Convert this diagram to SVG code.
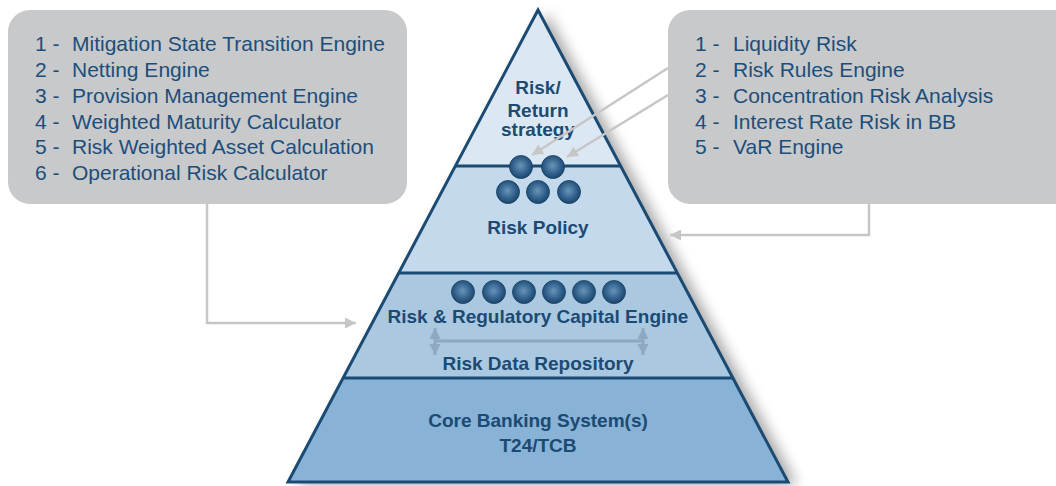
<svg xmlns="http://www.w3.org/2000/svg" width="1056" height="486" viewBox="0 0 1056 486">
<style>
.box{fill:#c8c9cb}
.lst{font-family:"Liberation Sans",Arial,sans-serif;font-size:21px;fill:#1d4e7a}
.lbl{font-family:"Liberation Sans",Arial,sans-serif;font-size:19px;font-weight:bold;fill:#1b4a73;text-anchor:middle}
.edge{fill:none;stroke:#1b4a73;stroke-width:3;stroke-linejoin:miter}
.con{fill:none;stroke:#c6c6c6;stroke-width:2.5}
.dbl{fill:none;stroke:#8da8bf;stroke-width:3}
.ball{fill:url(#sph);stroke:#17405f;stroke-width:0.8}
</style>
<defs>
<radialGradient id="sph" cx="0.48" cy="0.45" r="0.6">
<stop offset="0" stop-color="#6a94b8"/>
<stop offset="0.6" stop-color="#2f5f8a"/>
<stop offset="1" stop-color="#173f64"/>
</radialGradient>
<filter id="shadow" x="-20%" y="-20%" width="150%" height="140%">
<feGaussianBlur in="SourceAlpha" stdDeviation="7"/>
<feOffset dx="9" dy="3" result="b"/>
<feComponentTransfer><feFuncA type="linear" slope="0.35"/></feComponentTransfer>
<feMerge><feMergeNode/><feMergeNode in="SourceGraphic"/></feMerge>
</filter>
<marker id="arr" viewBox="0 0 10 10" refX="10" refY="5" markerWidth="11" markerHeight="11" markerUnits="userSpaceOnUse" orient="auto">
<path d="M0,0 L10,5 L0,10 z" fill="#c6c6c6"/>
</marker>
<marker id="arr2" viewBox="0 0 10 10" refX="10" refY="5" markerWidth="11" markerHeight="12" markerUnits="userSpaceOnUse" orient="auto-start-reverse">
<path d="M0,0 L10,5 L0,10 z" fill="#8da8bf"/>
</marker>
</defs>

<g id="left-box">
<rect class="box" x="8" y="10" width="399" height="194" rx="22"/>
<text class="lst"><tspan x="35" y="51">1 -</tspan><tspan x="72" y="51">Mitigation State Transition Engine</tspan></text>
<text class="lst"><tspan x="35" y="77">2 -</tspan><tspan x="72" y="77">Netting Engine</tspan></text>
<text class="lst"><tspan x="35" y="103">3 -</tspan><tspan x="72" y="103">Provision Management Engine</tspan></text>
<text class="lst"><tspan x="35" y="128.5">4 -</tspan><tspan x="72" y="128.5">Weighted Maturity Calculator</tspan></text>
<text class="lst"><tspan x="35" y="154">5 -</tspan><tspan x="72" y="154">Risk Weighted Asset Calculation</tspan></text>
<text class="lst"><tspan x="35" y="180">6 -</tspan><tspan x="72" y="180">Operational Risk Calculator</tspan></text>
</g>

<g id="right-box">
<rect class="box" x="668" y="10" width="410" height="194" rx="22"/>
<text class="lst"><tspan x="695" y="51">1 -</tspan><tspan x="733" y="51">Liquidity Risk</tspan></text>
<text class="lst"><tspan x="695" y="77">2 -</tspan><tspan x="733" y="77">Risk Rules Engine</tspan></text>
<text class="lst"><tspan x="695" y="103">3 -</tspan><tspan x="733" y="103">Concentration Risk Analysis</tspan></text>
<text class="lst"><tspan x="695" y="128.5">4 -</tspan><tspan x="733" y="128.5">Interest Rate Risk in BB</tspan></text>
<text class="lst"><tspan x="695" y="154">5 -</tspan><tspan x="733" y="154">VaR Engine</tspan></text>
</g>

<g id="pyramid">
<polygon points="538,10 788,482 288,482" fill="#88b2d6" filter="url(#shadow)"/>
<g id="core-banking">
<polygon points="343.1,378 732.9,378 788,482 288,482" fill="#88b2d6"/>
<text class="lbl" x="538" y="427">Core Banking System(s)</text>
<text class="lbl" x="538" y="452">T24/TCB</text>
</g>
<g id="capital-engine">
<polygon points="398.7,273 677.3,273 732.9,378 343.1,378" fill="#abc8e1"/>
<text class="lbl" x="538" y="323">Risk &amp; Regulatory Capital Engine</text>
<text class="lbl" x="538" y="370">Risk Data Repository</text>
</g>
<g id="risk-policy">
<polygon points="455.4,166 620.6,166 677.3,273 398.7,273" fill="#c4d9eb"/>
<text class="lbl" x="538" y="234">Risk Policy</text>
</g>
<g id="strategy">
<polygon points="538,10 620.6,166 455.4,166" fill="#dbe8f3"/>
<text class="lbl" x="538" y="94">Risk/</text>
<text class="lbl" x="538" y="117">Return</text>
<text class="lbl" x="538" y="136">strategy</text>
</g>
<polygon class="edge" points="538,10 788,482 288,482"/>
<line class="edge" x1="455.4" y1="166" x2="620.6" y2="166"/>
<line class="edge" x1="398.7" y1="273" x2="677.3" y2="273"/>
<line class="edge" x1="343.1" y1="378" x2="732.9" y2="378"/>
<g id="balls">
<circle class="ball" cx="521" cy="167" r="11.5"/>
<circle class="ball" cx="553" cy="167" r="11.5"/>
<circle class="ball" cx="508" cy="192" r="11.5"/>
<circle class="ball" cx="538" cy="192" r="11.5"/>
<circle class="ball" cx="569" cy="192" r="11.5"/>
<circle class="ball" cx="463" cy="292" r="11.5"/>
<circle class="ball" cx="494" cy="292" r="11.5"/>
<circle class="ball" cx="524" cy="292" r="11.5"/>
<circle class="ball" cx="554" cy="292" r="11.5"/>
<circle class="ball" cx="584" cy="292" r="11.5"/>
<circle class="ball" cx="614" cy="292" r="11.5"/>
</g>
</g>

<g id="connectors">
<polyline class="con" points="207,204 207,323 356,323" marker-end="url(#arr)"/>
<polyline class="con" points="869,204 869,235 670,235" marker-end="url(#arr)"/>
<line class="con" x1="668" y1="68" x2="532" y2="155" marker-end="url(#arr)"/>
<line class="con" x1="668" y1="95" x2="567" y2="157" marker-end="url(#arr)"/>
<line class="dbl" x1="435" y1="341" x2="643" y2="341"/>
<line class="dbl" x1="435" y1="328" x2="435" y2="355" marker-start="url(#arr2)" marker-end="url(#arr2)"/>
<line class="dbl" x1="643" y1="328" x2="643" y2="355" marker-start="url(#arr2)" marker-end="url(#arr2)"/>
</g>
</svg>
